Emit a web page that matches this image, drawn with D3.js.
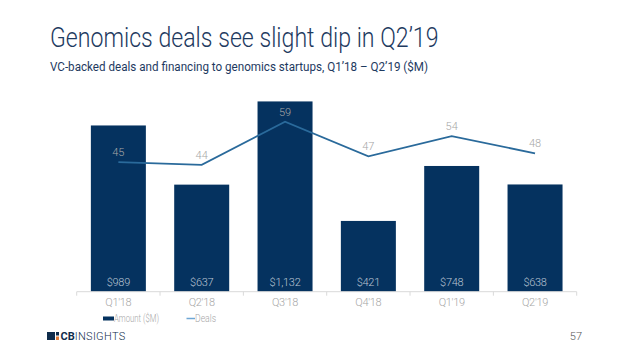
<!DOCTYPE html>
<html><head><meta charset="utf-8">
<script src="https://cdn.jsdelivr.net/npm/d3@7"></script>
<style>
html,body{margin:0;padding:0;background:#fff;}
svg{display:block;}
</style></head>
<body>
<script>
const categories = ["Q1'18","Q2'18","Q3'18","Q4'18","Q1'19","Q2'19"];
const amounts = [989, 637, 1132, 421, 748, 638];
const amountLabels = ["$989","$637","$1,132","$421","$748","$638"];
const deals = [45, 44, 59, 47, 54, 48];
const legendLabels = ["Amount ($M)", "Deals"];
const titleText = "Genomics deals see slight dip in Q2\u201919";
const subtitleText = "VC-backed deals and financing to genomics startups, Q1\u201918 \u2013 Q2\u201919 ($M)";

const W = 638, H = 359;
const svg = d3.select("body").append("svg").attr("width", W).attr("height", H);

const barColor = "#05325f", lineColor = "#2a6a9b", gray = "#a6a6a6", navy = "#1e3a5f";

// Title
const title = svg.append("text").attr("x", 50).attr("y", 47)
  .attr("font-family", "Roboto").attr("font-weight", 300).attr("font-size", 27)
  .attr("fill", navy).text(titleText);
{
  const sub = title.node().getSubStringLength(0, 17);
  const k = 192 / sub;
  title.attr("transform", `translate(50,0) scale(${k},1) translate(-50,0)`);
}
const subtitle = svg.append("text").attr("x", 50).attr("y", 71.5)
  .attr("font-family", "Roboto").attr("font-weight", 400).attr("font-size", 13)
  .attr("fill", navy).text(subtitleText);
{
  const sub = subtitle.node().getSubStringLength(0, 35);
  const k = 188 / sub;
  subtitle.attr("transform", `translate(50,0) scale(${k},1) translate(-50,0)`);
}

// Scales
const x = d3.scaleBand().domain(categories).range([76.7, 576.7]).paddingInner(0.34).paddingOuter(0.17);
const band = d3.scaleBand().domain(categories).range([76.7, 576.7]);
const yA = d3.scaleLinear().domain([0, 1200]).range([291.7, 90]);
const yD = d3.scaleLinear().domain([0, 70]).range([291.7, 90]);

// Bars
svg.append("g").selectAll("rect").data(amounts).join("rect")
  .attr("x", (d, i) => x(categories[i]))
  .attr("width", x.bandwidth())
  .attr("y", d => yA(d))
  .attr("height", d => yA(0) - yA(d))
  .attr("fill", barColor);

// Bar labels
svg.append("g").selectAll("text").data(amountLabels).join("text")
  .attr("x", (d, i) => x(categories[i]) + x.bandwidth() / 2)
  .attr("y", yA(0) - 5.5)
  .attr("text-anchor", "middle")
  .attr("font-family", "Roboto").attr("font-weight", 300).attr("font-size", 11)
  .attr("letter-spacing", -0.3)
  .attr("fill", "#b9c4d2").text(d => d);

// Axis
const axis = svg.append("g").attr("transform", `translate(0,${yA(0)})`);
axis.append("line").attr("x1", band.range()[0]).attr("x2", band.range()[1])
  .attr("stroke", "#d9d9d9").attr("stroke-width", 1);
const edges = categories.map(c => band(c)).concat([band.range()[1]]);
axis.selectAll("line.tick").data(edges).join("line").attr("class", "tick")
  .attr("x1", d => d).attr("x2", d => d).attr("y1", 0).attr("y2", 4)
  .attr("stroke", "#d9d9d9");
axis.selectAll("text").data(categories).join("text")
  .attr("x", d => band(d) + band.bandwidth() / 2)
  .attr("y", 14)
  .attr("text-anchor", "middle")
  .attr("font-family", "Roboto").attr("font-weight", 300).attr("font-size", 11)
  .attr("letter-spacing", -0.3)
  .attr("fill", gray).text(d => d);

// Line
const line = d3.line().x((d, i) => band(categories[i]) + band.bandwidth() / 2).y(d => yD(d));
svg.append("path").datum(deals).attr("d", line)
  .attr("fill", "none").attr("stroke", lineColor).attr("stroke-width", 1.8);

svg.append("g").selectAll("text").data(deals).join("text")
  .attr("x", (d, i) => band(categories[i]) + band.bandwidth() / 2)
  .attr("y", d => yD(d) - 6)
  .attr("text-anchor", "middle")
  .attr("font-family", "Roboto").attr("font-weight", 300).attr("font-size", 11)
  .attr("fill", gray).text(d => d);

// Legend
const lg = svg.append("g");
lg.append("rect").attr("x", 103).attr("y", 316.5).attr("width", 11).attr("height", 4).attr("fill", barColor);
lg.append("text").attr("x", 114).attr("y", 322).attr("font-family", "Roboto").attr("font-weight", 300)
  .attr("font-size", 10).attr("fill", gray)
  .attr("textLength", 45).attr("lengthAdjust", "spacingAndGlyphs").text(legendLabels[0]);
lg.append("line").attr("x1", 186.5).attr("x2", 195).attr("y1", 318.5).attr("y2", 318.5)
  .attr("stroke", "#6fa7d4").attr("stroke-width", 1.5);
lg.append("text").attr("x", 195).attr("y", 322).attr("font-family", "Roboto").attr("font-weight", 300)
  .attr("font-size", 10).attr("fill", gray)
  .attr("textLength", 21).attr("lengthAdjust", "spacingAndGlyphs").text(legendLabels[1]);

// Logo
const logo = svg.append("g");
logo.append("rect").attr("x", 47).attr("y", 332).attr("width", 8).attr("height", 8).attr("fill", "#0f2c4c");
logo.append("rect").attr("x", 56).attr("y", 332).attr("width", 3).attr("height", 3.5).attr("fill", "#0f2c4c");
logo.append("rect").attr("x", 56).attr("y", 336.5).attr("width", 3).attr("height", 3.5).attr("fill", "#e07b39");
const lt = logo.append("text").attr("x", 60.5).attr("y", 340).attr("font-family", "Roboto")
  .attr("font-size", 11).attr("fill", "#0f2c4c");
lt.append("tspan").attr("font-weight", 700).text("CB");
lt.append("tspan").attr("font-weight", 300).attr("letter-spacing", 0.3).text("INSIGHTS");

svg.append("text").attr("x", 582).attr("y", 340).attr("text-anchor", "end")
  .attr("font-family", "Roboto").attr("font-weight", 300).attr("font-size", 11)
  .attr("fill", "#595959").text("57");
</script>
</body></html>
